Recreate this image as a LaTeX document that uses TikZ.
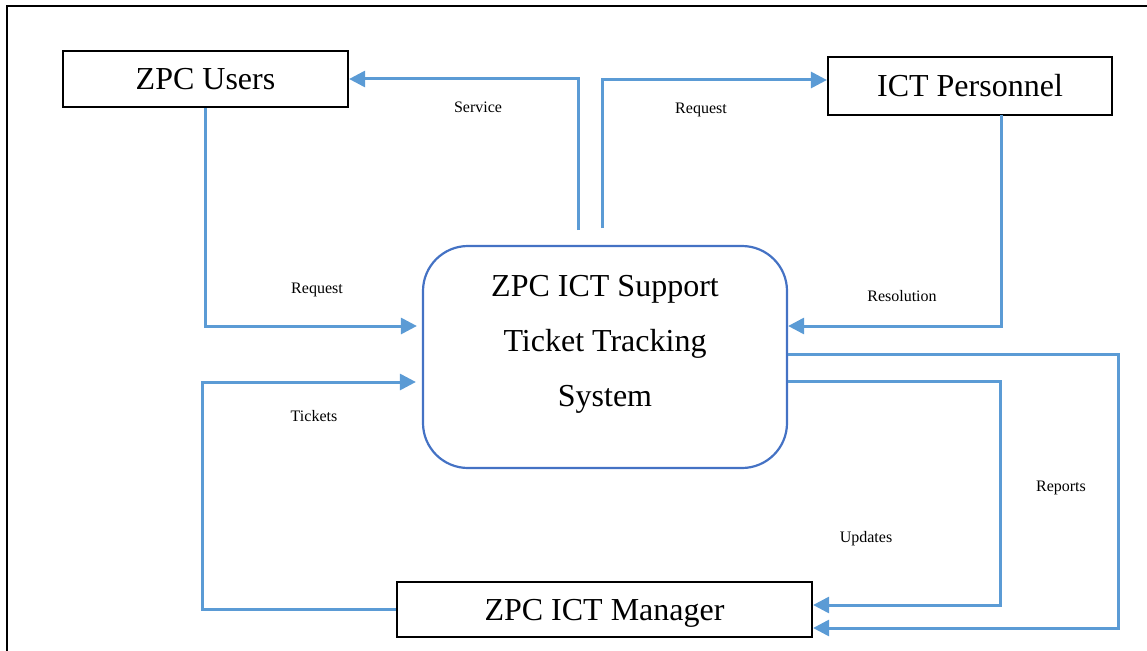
\documentclass[tikz,border=0pt]{standalone}
\usepackage{fontspec}
\setmainfont{Liberation Serif}
\usetikzlibrary{arrows.meta}
\definecolor{flowblue}{HTML}{5B9BD5}
\definecolor{sysblue}{HTML}{4472C4}
\tikzset{
  entity/.style={draw=black, line width=2.2pt, inner sep=0pt, font=\fontsize{32}{38}\selectfont},
  flow/.style={draw=flowblue, line width=3pt, -{Triangle[length=16pt,width=16pt]}},
  flowlbl/.style={font=\fontsize{16}{19}\selectfont, inner sep=0pt},
}
\begin{document}
\begin{tikzpicture}[x=1pt,y=-1pt]
\useasboundingbox (0,0) rectangle (1147,650);
\draw[line width=2.2pt] (7,660) -- (7,6) -- (1160,6);

\node[entity, minimum width=285pt, minimum height=56pt] (users) at (205.5,79) {ZPC Users};
\node[entity, minimum width=284pt, minimum height=58pt] (it) at (970,86) {ICT Personnel};
\node[entity, minimum width=415pt, minimum height=55pt, text depth=0pt] (mgr) at (604.5,609.5) {ZPC ICT Manager};
\node[draw=sysblue, line width=2.2pt, rounded corners=45pt, minimum width=364pt, minimum height=222pt, inner sep=0pt] (sys) at (605,357) {};
\node[align=center, font=\fontsize{32}{55}\selectfont] (systext) at (605,344) {ZPC ICT Support\\Ticket Tracking\\System};

\coordinate (svc) at (578,230);
\coordinate (req) at (602,228);
\coordinate (res) at (1001,115);
\coordinate (rep) at (1118,354);
\coordinate (upd) at (1000,381);
\coordinate (tic) at (202,609.5);

\draw[flow] (svc) |- (users.east);
\draw[flow] (req) |- ([yshift=6pt]it.west);
\draw[flow, shorten >=5pt] (users.south) |- ([yshift=31pt]sys.west);
\draw[flow, shorten >=6pt] (mgr.west) -- (tic) |- ([yshift=-25pt]sys.west);
\draw[flow] (res) |- ([yshift=31pt]sys.east);
\draw[flow] ([yshift=3pt]sys.east) -- (rep) |- ([yshift=-18.5pt]mgr.east);
\draw[flow] ([yshift=-24pt]sys.east) -- (upd) |- ([yshift=4.5pt]mgr.east);

\node[flowlbl] (lsvc) at (478,107) {Service};
\node[flowlbl] (lreq1) at (701,110) {Request};
\node[flowlbl] (lreq2) at (317,290) {Request};
\node[flowlbl] (ltic) at (314,416) {Tickets};
\node[flowlbl] (lres) at (902,296) {Resolution};
\node[flowlbl] (lrep) at (1061,488) {Reports};
\node[flowlbl] (lupd) at (866,539) {Updates};
\end{tikzpicture}
\end{document}
